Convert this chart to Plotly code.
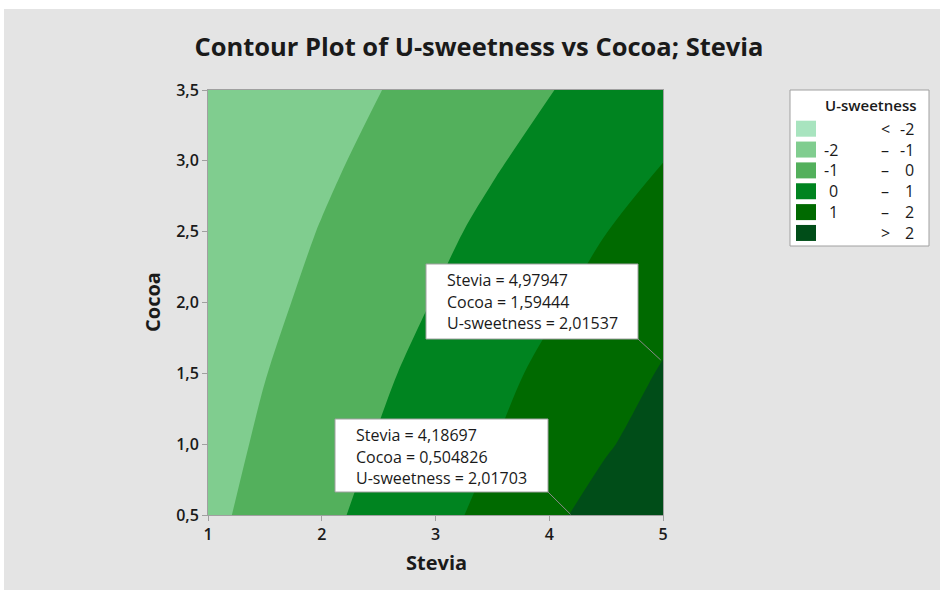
import plotly.graph_objects as go

# ---------------- data ----------------
stevia = [1.0, 1.5, 2.0, 2.5, 3.0, 3.5, 4.0, 4.5, 5.0]
cocoa = [0.5, 1.0, 1.5, 2.0, 2.5, 3.0, 3.5]
u_sweetness = [
    [-1.21, -0.71, -0.21, 0.27, 0.74, 1.25, 1.81, 2.36, 2.91],
    [-1.34, -0.87, -0.41, 0.06, 0.52, 0.98, 1.45, 1.92, 2.39],
    [-1.45, -1.02, -0.58, -0.15, 0.30, 0.76, 1.19, 1.60, 2.07],
    [-1.60, -1.19, -0.78, -0.37, 0.04, 0.46, 0.89, 1.29, 1.71],
    [-1.73, -1.35, -0.96, -0.58, -0.19, 0.20, 0.60, 0.99, 1.37],
    [-1.88, -1.52, -1.16, -0.80, -0.45, -0.09, 0.27, 0.63, 0.99],
    [-1.95, -1.68, -1.35, -1.02, -0.69, -0.36, -0.03, 0.30, 0.63],
]
x_ticks = [1, 2, 3, 4, 5]
y_ticks = [0.5, 1.0, 1.5, 2.0, 2.5, 3.0, 3.5]

band_colors = ["#A8E4BF", "#80CD8F", "#53B05C", "#008420", "#006A00", "#004D18"]
legend_low = ["", "-2", "-1", "0", "1", ""]
legend_mid = ["<", "\u2013", "\u2013", "\u2013", "\u2013", ">"]
legend_high = ["-2", "-1", "0", "1", "2", "2"]

ann_stevia = [4.97947, 4.18697]
ann_cocoa = [1.59444, 0.504826]
ann_u = [2.01537, 2.01703]

# ---------------- layout geometry ----------------
W, H = 940, 590
L, R, T, B = 208, 663, 90, 515  # plot area in pixels
FONT = "Open Sans"
GRID_GREY = "#A0A0A0"
TXT = "#1a1a1a"


def fx(px):
    return (px - L) / (R - L)


def fy(py):
    return (B - py) / (B - T)


def dx(px):
    return 1 + (px - L) / (R - L) * 4


def dy(py):
    return 0.5 + (B - py) / (B - T) * 3


def comma(v):
    return str(v).replace(".", ",")


# stepped colorscale: each band colour sits exactly at its band midpoint
cscale = []
n = len(band_colors)
for i, c in enumerate(band_colors):
    lo = max(0.0, (i - 0.5) / (n - 1))
    hi = min(1.0, (i + 0.5) / (n - 1))
    cscale += [[lo, c], [hi, c]]

fig = go.Figure()
fig.add_trace(go.Contour(
    x=stevia, y=cocoa, z=u_sweetness,
    autocontour=False,
    contours=dict(start=-2, end=2, size=1, coloring="fill", showlines=False),
    colorscale=cscale,
    line=dict(width=0),
    showscale=False,
    hoverinfo="skip",
))

shapes = []
annotations = []

# white strips around the grey panel
shapes.append(dict(type="rect", xref="paper", yref="paper", x0=fx(0), x1=fx(W), y0=fy(9), y1=fy(0),
                   fillcolor="white", line=dict(width=0), layer="below"))
shapes.append(dict(type="rect", xref="paper", yref="paper", x0=fx(0), x1=fx(4), y0=fy(H), y1=fy(0),
                   fillcolor="white", line=dict(width=0), layer="below"))

# ---- legend box ----
shapes.append(dict(type="rect", xref="paper", yref="paper", x0=fx(790), x1=fx(929), y0=fy(246), y1=fy(90),
                   fillcolor="white", line=dict(color=GRID_GREY, width=1)))
annotations.append(dict(xref="paper", yref="paper", x=fx(871), y=fy(105), text="U-sweetness",
                        showarrow=False, xanchor="center", yanchor="middle",
                        font=dict(family=FONT, size=15, color=TXT, weight=600)))
pitch = 20.85
for i, c in enumerate(band_colors):
    top = 120.7 + i * pitch
    cy = top + 8
    shapes.append(dict(type="rect", xref="paper", yref="paper", x0=fx(796), x1=fx(816),
                       y0=fy(top + 16), y1=fy(top), fillcolor=c, line=dict(width=0)))
    if legend_low[i]:
        annotations.append(dict(xref="paper", yref="paper", x=fx(840), y=fy(cy), text=legend_low[i],
                                showarrow=False, xanchor="right", yanchor="middle",
                                font=dict(family=FONT, size=16, color=TXT, weight=500)))
    annotations.append(dict(xref="paper", yref="paper", x=fx(885), y=fy(cy), text=legend_mid[i],
                            showarrow=False, xanchor="center", yanchor="middle",
                            font=dict(family=FONT, size=16, color=TXT, weight=500)))
    annotations.append(dict(xref="paper", yref="paper", x=fx(916), y=fy(cy), text=legend_high[i],
                            showarrow=False, xanchor="right", yanchor="middle",
                            font=dict(family=FONT, size=16, color=TXT, weight=500)))

# ---- data labels (boxes + leader lines) ----
boxes = [(426, 264, 638, 339), (335, 419, 548, 492)]
for k in range(len(ann_stevia)):
    x0, y0, x1, y1 = boxes[k]
    shapes.append(dict(type="line", xref="x", yref="y", x0=ann_stevia[k], y0=ann_cocoa[k],
                       x1=dx(x1), y1=dy(y1), line=dict(color="#8a8a8a", width=1)))
    shapes.append(dict(type="rect", xref="paper", yref="paper", x0=fx(x0), x1=fx(x1), y0=fy(y1), y1=fy(y0),
                       fillcolor="white", line=dict(color=GRID_GREY, width=1)))
    lines = ["Stevia = " + comma(ann_stevia[k]),
             "Cocoa = " + comma(ann_cocoa[k]),
             "U-sweetness = " + comma(ann_u[k])]
    for j, t in enumerate(lines):
        annotations.append(dict(xref="paper", yref="paper", x=fx(x0 + 19), y=fy(y0 + 16 + j * 21.5),
                                text=t, showarrow=False, xanchor="left", yanchor="middle",
                                font=dict(family=FONT, size=16, color=TXT, weight=500)))

# ---- axis titles ----
annotations.append(dict(xref="paper", yref="paper", x=fx(436), y=fy(562), text="Stevia", showarrow=False,
                        xanchor="center", yanchor="middle",
                        font=dict(family=FONT, size=20, color=TXT, weight="bold")))
annotations.append(dict(xref="paper", yref="paper", x=fx(152), y=fy(302), text="Cocoa", showarrow=False,
                        textangle=-90, xanchor="center", yanchor="middle",
                        font=dict(family=FONT, size=20, color=TXT, weight="bold")))

axis_common = dict(showline=True, linecolor=GRID_GREY, linewidth=1, mirror=True,
                   ticks="outside", ticklen=5, tickcolor=GRID_GREY, showgrid=False, zeroline=False,
                   tickfont=dict(family=FONT, size=16, color=TXT, weight=600))

fig.update_layout(
    width=W, height=H,
    margin=dict(l=L, r=W - R, t=T, b=H - B, pad=0),
    paper_bgcolor="#E4E4E4",
    plot_bgcolor="white",
    separators=", ",
    font=dict(family=FONT),
    title=dict(text="Contour Plot of U-sweetness vs Cocoa; Stevia", x=479 / W, xanchor="center",
               y=1 - 47 / H, yanchor="middle",
               font=dict(family=FONT, size=25.5, color=TXT, weight="bold")),
    xaxis=dict(range=[1, 5], tickvals=x_ticks, **axis_common),
    yaxis=dict(range=[0.5, 3.5], tickvals=y_ticks, tickformat=".1f", **axis_common),
    shapes=shapes,
    annotations=annotations,
    showlegend=False,
)

fig.write_html("out.html")
